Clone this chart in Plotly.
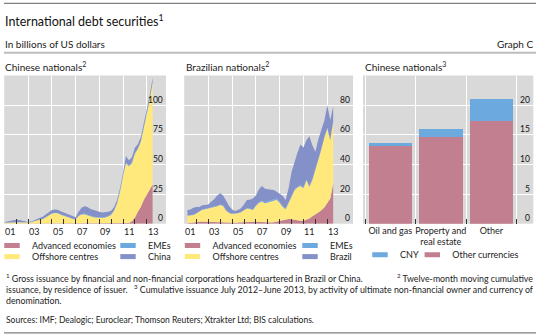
import pandas as pd
import plotly.graph_objects as go

W, H = 538, 334
FONT = "Lato"
TXT = "#222222"

# ---------------------------------------------------------------- data
try:
    q_ends = pd.date_range("2000-12-31", "2013-06-30", freq="QE")
except ValueError:
    q_ends = pd.date_range("2000-12-31", "2013-06-30", freq="Q")
dates_cn = [d.strftime("%Y-%m-%d") for d in q_ends]      # Dec 2000 .. Jun 2013
dates_br = dates_cn[1:]                                  # Mar 2001 .. Jun 2013

# Chinese nationals, twelve-month cumulative issuance (USD bn)
cn_advanced = [0,
               0, 0, 0, 0,  0, 0, 0, 0,  0, 0, 0, 0,  0, 0, 0, 0,
               0, 0, 0, 0,  0, 0, 0, 0,  0.2, 0.3, 0.3, 0.2,  0.1, 0, 0, 0,
               0, 0, 0, 0,  0, 0, 0, 0.1,  0.2, 0.5, 2, 5,  10, 14, 20, 24,
               29, 33]
cn_offshore = [0.8,
               1, 1, 1.2, 1.4,  1.2, 1, 1, 1,  1.3, 2, 2.5, 3,  4, 5.5, 7, 8.5,
               9, 8.8, 7.5, 6.8,  5.8, 5, 4, 3.6,  6.3, 7.5, 7.7, 6.8,  5.9, 5.5, 5.2, 4.8,
               4.8, 5.2, 6, 7.5,  11, 17, 27, 39.9,  50.8, 48, 49, 54,  53, 55, 60, 67,
               75, 86]
cn_emes = [0.2,
           0.2, 0.2, 0.2, 0.2,  0.2, 0.2, 0.2, 0.2,  0.2, 0.2, 0.2, 0.2,  0.2, 0.2, 0.2, 0.2,
           0.2, 0.2, 0.2, 0.2,  0.2, 0.2, 0.2, 0.2,  0.4, 0.4, 0.4, 0.4,  0.4, 0.4, 0.4, 0.4,
           0.4, 0.4, 0.4, 0.4,  0.5, 0.5, 0.5, 0.5,  0.5, 0.5, 0.5, 0.5,  0.5, 0.5, 0.5, 0.5,
           0.5, 0.5]
cn_china = [0.5,
            0.8, 1.3, 1.8, 1.8,  1.8, 1.6, 1.0, 0.3,  0.3, 0.6, 0.7, 1.3,  1.8, 2.3, 2.8, 2.8,
            2.8, 2.8, 2.8, 2.5,  2.0, 1.8, 1.8, 1.7,  3.1, 5.3, 6.3, 6.6,  6.1, 5.6, 5.4, 4.8,
            4.3, 4.2, 3.6, 3.1,  2.5, 2.5, 2.5, 2.5,  5.5, 4.5, 4.5, 4.5,  3.5, 3.5, 3.5, 3.5,
            3.5, 3.5]

# Brazilian nationals, twelve-month cumulative issuance (USD bn)
br_advanced = [0.3, 0.5, 0.8, 1.2,  1.5, 1.5, 1.3, 1.2,  1.0, 1.0, 0.8, 0.6,  0.5, 0.4, 0.4, 0.5,
               0.6, 0.8, 1.0, 1.0,  1.0, 1.2, 1.4, 1.4,  1.2, 1.0, 1.0, 0.8,  0.8, 1.0, 1.5, 2.0,
               2.5, 3.0, 3.2, 3.0,  2.5, 2.0, 2.0, 2.0,  2.5, 3.5, 5.0, 6.0,  7.5, 9.0, 11.0, 14.0,
               17.0, 27.0]
br_offshore = [5.1, 5.0, 5.0, 5.6,  6.8, 7.9, 8.5, 9.0,  9.6, 10.0, 11.0, 12.0,  11.5, 8.4, 6.8, 6.1,
               6.0, 6.2, 6.8, 8.0,  9.2, 8.8, 7.9, 10.6,  12.8, 13.9, 12.8, 13.5,  14.2, 14.8, 14.7, 12.0,
               9.0, 6.8, 10.3, 15.2,  20.0, 22.5, 23.5, 22.0,  26.8, 21.5, 24.5, 30.0,  35.5, 41.0, 47.0, 50.0,
               39.3, 41.7]
br_emes = [0.3, 0.3, 0.3, 0.3,  0.3, 0.3, 0.3, 0.3,  0.3, 0.3, 0.3, 0.3,  0.3, 0.3, 0.3, 0.3,
           0.3, 0.3, 0.3, 0.3,  0.3, 0.3, 0.3, 0.3,  0.5, 0.8, 0.8, 0.8,  0.8, 0.8, 0.8, 0.6,
           0.5, 0.5, 0.5, 0.5,  0.5, 0.5, 0.5, 0.5,  0.5, 0.5, 0.5, 0.5,  0.5, 0.5, 0.5, 0.5,
           0.5, 0.5]
br_brazil = [3.6, 3.7, 4.7, 4.2,  2.6, 2.7, 2.5, 2.5,  3.9, 5.2, 6.9, 7.6,  6.7, 6.4, 4.5, 2.6,
             1.7, 1.9, 2.4, 3.7,  5.5, 5.9, 7.4, 6.7,  8.5, 9.8, 9.2, 8.1,  7.2, 6.2, 4.5, 5.4,
             6.8, 5.7, 10.0, 16.3,  19.0, 23.0, 27.5, 27.0,  26.5, 33.5, 23.0, 12.0,  13.5, 12.0, 11.0, 15.5,
             13.2, 9.8]

# Chinese nationals, July 2012-June 2013 by activity and currency (USD bn)
activities = ["Oil and gas", "Property and<br>real estate", "Other"]
act_other_ccy = [13.35, 14.7, 17.35]
act_cny = [0.2, 1.25, 3.65]

# axis labelling
odd_years = [f"{y}-01-01" for y in range(2001, 2014, 2)]
even_years = [f"{y}-01-01" for y in range(2002, 2013, 2)]
label_dates = [f"{y}-07-01" for y in range(2001, 2014, 2)]
year_text = ["01", "03", "05", "07", "09", "11", "13"]
cn_ticks = [0, 25, 50, 75, 100]
br_ticks = [0, 20, 40, 60, 80]
act_ticks = [0, 5, 10, 15, 20]

# ---------------------------------------------------------------- style
C_ADV = "#C27F8F"
C_OFF = "#FFE97C"
C_EME = "#6CA9DF"
C_NAT = "#8491C9"
BG = "#D9D9D9"


def fx(p):
    return p / W


def fy(p):
    return 1 - p / H


Y_DOM = [fy(223.7), fy(75.5)]

fig = go.Figure()


def add_stack(xs, ys, color, group, xa, ya):
    fig.add_trace(go.Scatter(
        x=xs, y=ys, stackgroup=group, mode="lines",
        line=dict(width=0), fillcolor=color,
        xaxis=xa, yaxis=ya, showlegend=False, hoverinfo="skip"))


for ys, c in [(cn_advanced, C_ADV), (cn_offshore, C_OFF), (cn_emes, C_EME), (cn_china, C_NAT)]:
    add_stack(dates_cn, ys, c, "cn", "x", "y")
for ys, c in [(br_advanced, C_ADV), (br_offshore, C_OFF), (br_emes, C_EME), (br_brazil, C_NAT)]:
    add_stack(dates_br, ys, c, "br", "x2", "y2")

fig.add_trace(go.Bar(x=activities, y=act_other_ccy, marker=dict(color=C_ADV, line=dict(width=0)),
                     xaxis="x3", yaxis="y3", showlegend=False, hoverinfo="skip"))
fig.add_trace(go.Bar(x=activities, y=act_cny, marker=dict(color=C_EME, line=dict(width=0)),
                     xaxis="x3", yaxis="y3", showlegend=False, hoverinfo="skip"))

# legend entries: flat colour bars, one small legend per entry
# (legend id, label, colour, left edge px, row centre px, indentation)
keys = [
    ("legend", "Advanced economies", C_ADV, 0, 245.5, -8),
    ("legend2", "Offshore centres", C_OFF, 0, 256.6, -8),
    ("legend3", "EMEs", C_EME, 108, 245.5, 0),
    ("legend4", "China", C_NAT, 108, 256.6, 0),
    ("legend5", "Advanced economies", C_ADV, 172.5, 245.5, 0),
    ("legend6", "Offshore centres", C_OFF, 172.5, 256.6, 0),
    ("legend7", "EMEs", C_EME, 290, 245.5, 0),
    ("legend8", "Brazil", C_NAT, 290, 256.6, 0),
    ("legend9", "CNY", C_EME, 360, 254.8, 0),
    ("legend10", "Other currencies", C_ADV, 412.3, 254.8, 0),
]

legend_layout = {}
for lid, name, color, left, yc, indent in keys:
    fig.add_trace(go.Scatter(
        x=[None], y=[None], mode="markers", name=name, legend=lid,
        marker=dict(symbol="line-ew", size=11, color=color, line=dict(color=color, width=5)),
        xaxis="x", yaxis="y", hoverinfo="skip"))
    legend_layout[lid] = dict(
        orientation="h", x=fx(left), y=fy(yc), xanchor="left", yanchor="middle",
        bgcolor="rgba(0,0,0,0)", font=dict(family=FONT, size=9, color=TXT),
        indentation=indent, itemclick=False, itemdoubleclick=False)

tickfont = dict(family=FONT, size=9, color=TXT)
valfont = dict(family=FONT, size=8.5, color="#111111")


def time_axis(domain, rng):
    return dict(domain=domain, type="date", range=rng,
                tickmode="array", tickvals=odd_years, showticklabels=False,
                ticks="inside", ticklen=5, tickwidth=1, tickcolor="#333333",
                showgrid=True, gridcolor="white", gridwidth=1,
                zeroline=False, showline=False, fixedrange=True,
                minor=dict(tickmode="array", tickvals=even_years, ticks="inside",
                           ticklen=5, tickwidth=1, tickcolor="#333333", showgrid=False))


def value_axis(domain, anchor, rng, vals):
    return dict(domain=domain, anchor=anchor, side="right", range=rng,
                tickmode="array", tickvals=vals, ticks="", showticklabels=False,
                showgrid=True, gridcolor="white", gridwidth=1,
                zeroline=False, showline=False, fixedrange=True)


fig.update_layout(
    width=W, height=H, margin=dict(l=0, r=0, t=0, b=0),
    paper_bgcolor="white", plot_bgcolor=BG, hovermode=False,
    barmode="stack", bargap=0.14, showlegend=True,
    font=dict(family=FONT, color=TXT),
    xaxis=dict(anchor="y", **time_axis([fx(4.2), fx(166)], ["2000-12-20", "2014-08-17"])),
    yaxis=value_axis(Y_DOM, "x", [0, 125], cn_ticks),
    xaxis2=dict(anchor="y2", **time_axis([fx(184.2), fx(353)], ["2000-12-22", "2015-02-28"])),
    yaxis2=value_axis(Y_DOM, "x2", [0, 100], br_ticks),
    xaxis3=dict(domain=[fx(363), fx(533.3)], anchor="y3", type="category",
                range=[-0.54, 2.83], tickson="boundaries", ticks="inside", ticklen=5,
                tickwidth=1, tickcolor="#333333", tickfont=tickfont, tickangle=0,
                showgrid=True, gridcolor="white", gridwidth=1,
                zeroline=False, showline=False, fixedrange=True),
    yaxis3=value_axis(Y_DOM, "x3", [0, 25], act_ticks),
    **legend_layout,
)

# year labels centred on each labelled year, below the time axes
for xa, ya in [("x", "y"), ("x2", "y2")]:
    for d, t in zip(label_dates, year_text):
        fig.add_annotation(x=d, y=0, xref=xa, yref=f"{ya} domain", text=t,
                           xanchor="center", yanchor="top", showarrow=False, font=tickfont)

# value labels inside the right edge, sitting just above their gridlines
for xa, ya, vals in [("x", "y", cn_ticks), ("x2", "y2", br_ticks), ("x3", "y3", act_ticks)]:
    for v in vals:
        fig.add_annotation(x=1, xref=f"{xa} domain", y=v, yref=ya, text=str(v),
                           xanchor="right", yanchor="middle", xshift=-1.5, yshift=5.5,
                           showarrow=False, font=valfont)

# rules
for y0, w, c in [(3.4, 1.2, "#7F7F7F"), (52.8, 2, "#BDBDBD"), (332.8, 1.2, "#7F7F7F")]:
    fig.add_shape(type="line", xref="paper", yref="paper",
                  x0=fx(4), x1=fx(536), y0=fy(y0), y1=fy(y0),
                  line=dict(color=c, width=w))


def note(text, x, y, size, anchor="left", color=TXT):
    fig.add_annotation(text=text, x=fx(x), y=fy(y), xref="paper", yref="paper",
                       xanchor=anchor, yanchor="middle", showarrow=False,
                       align=anchor, font=dict(family=FONT, size=size, color=color))


note("International debt securities<sup>1</sup>", 3, 20.7, 12.5, color="#111111")
note("In billions of US dollars", 3, 43.8, 10)
note("Graph C", 536, 43.8, 10, anchor="right")
note("Chinese nationals<sup>2</sup>", 3, 66.5, 10)
note("Brazilian nationals<sup>2</sup>", 184, 66.5, 10)
note("Chinese nationals<sup>3</sup>", 363, 66.5, 10)

# footnotes, spread across the full text width
FN = 8.8
note("<sup>1</sup> Gross issuance by financial and non-financial corporations headquartered "
     "in Brazil or China.", 4, 278.3, FN)
note("<sup>2</sup> Twelve-month moving cumulative", 535, 278.3, FN, anchor="right")
note("issuance, by residence of issuer.", 4, 289.3, FN)
note("<sup>3</sup> Cumulative issuance July 2012\u2013June 2013, by activity of ultimate "
     "non-financial owner and currency of", 535, 289.3, FN, anchor="right")
note("denomination.", 4, 300, FN)
note("Sources: IMF; Dealogic; Euroclear; Thomson Reuters; Xtrakter Ltd; BIS calculations.",
     4, 320.3, 8.5)

fig.write_html("out.html")
